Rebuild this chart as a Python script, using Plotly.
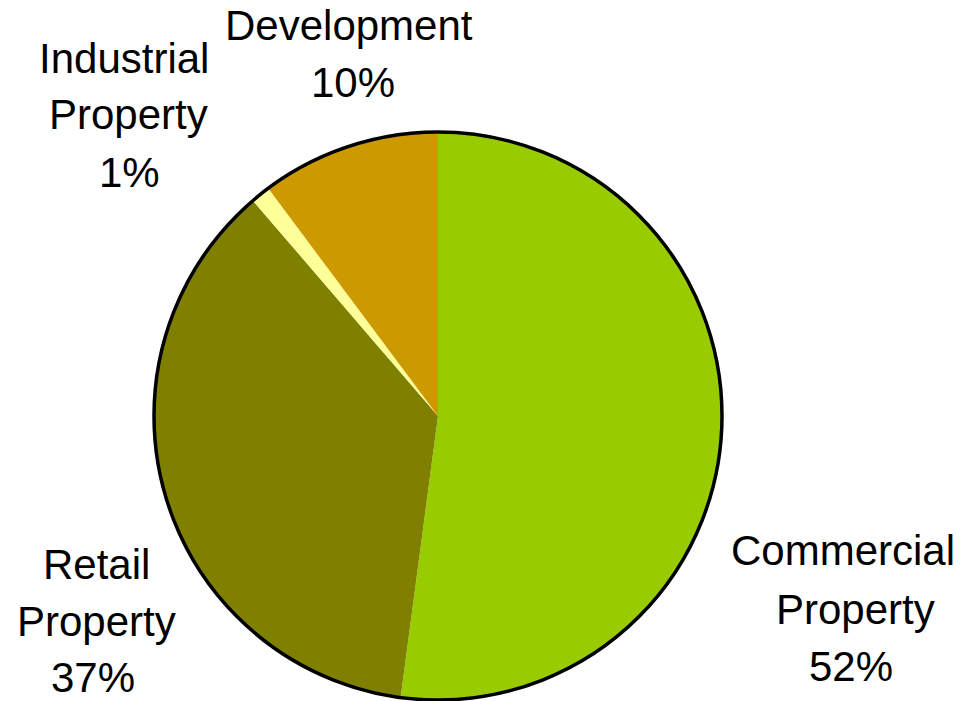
import plotly.graph_objects as go

# Portfolio split by sector (percent of total)
sectors = ["Commercial Property", "Retail Property", "Industrial Property", "Development"]
shares = [52.1, 36.6, 1.1, 10.2]
colors = ["#99CC00", "#808000", "#FFFF99", "#CC9900"]

W, H = 965, 701
FONT = "Liberation Sans, Arial, sans-serif"
FONT_SIZE = 42

# Pie placement in pixels (centre and radius)
cx, cy, r = 438, 416, 284
domain = dict(x=[(cx - r) / W, (cx + r) / W], y=[(H - cy - r) / H, (H - cy + r) / H])

fig = go.Figure()

# Slices, starting at 12 o'clock and running clockwise
fig.add_trace(go.Pie(
    labels=sectors,
    values=shares,
    marker=dict(colors=colors, line=dict(width=0)),
    sort=False,
    direction="clockwise",
    rotation=0,
    textinfo="none",
    hoverinfo="label+percent",
    showlegend=False,
    domain=domain,
))

# Black outline around the whole pie only
fig.add_trace(go.Pie(
    labels=["outline"],
    values=[1],
    marker=dict(colors=["rgba(0,0,0,0)"], line=dict(color="black", width=3.5)),
    sort=False,
    textinfo="none",
    hoverinfo="skip",
    showlegend=False,
    domain=domain,
))

# Label line centres in pixels, one entry per text line of each label
label_lines_px = {
    "Commercial Property": [(843, 550), (855, 609), (851, 666)],
    "Retail Property": [(96, 564), (96, 621), (93, 677)],
    "Industrial Property": [(124, 58), (128, 115), (129, 172)],
    "Development": [(349, 26), (353, 82)],
}

total = sum(shares)
for name, value in zip(sectors, shares):
    lines = name.split(" ") + [f"{round(100 * value / total)}%"]
    for text, (px, py) in zip(lines, label_lines_px[name]):
        fig.add_annotation(
            text=text,
            x=px / W, y=1 - py / H,
            xref="paper", yref="paper",
            xanchor="center", yanchor="middle",
            showarrow=False,
            font=dict(family=FONT, size=FONT_SIZE, color="black"),
        )

fig.update_layout(
    width=W, height=H,
    margin=dict(l=0, r=0, t=0, b=0),
    paper_bgcolor="white",
    plot_bgcolor="white",
    font=dict(family=FONT),
)

fig.write_html("out.html")
